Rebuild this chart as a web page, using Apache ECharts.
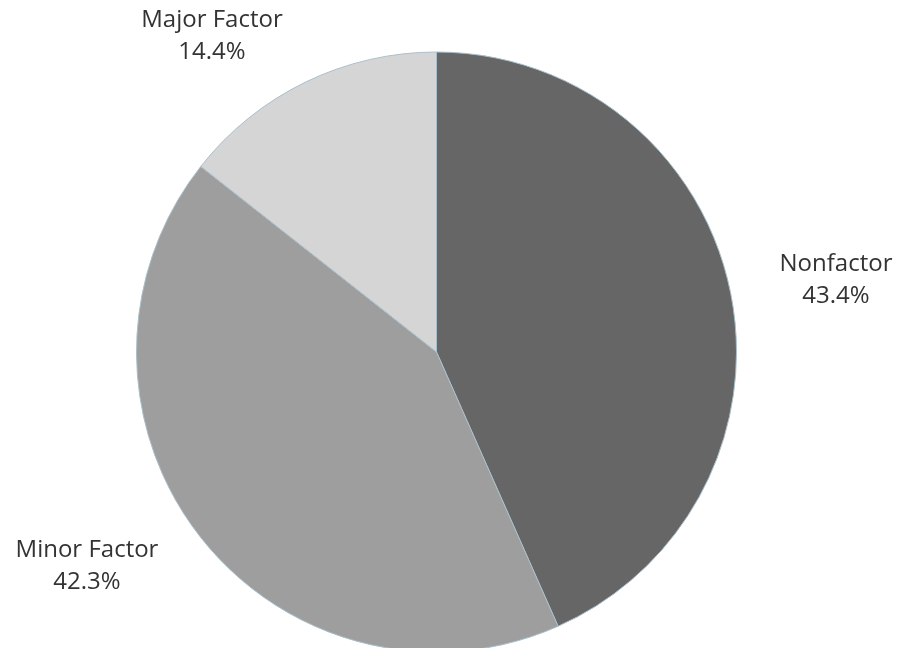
<!DOCTYPE html>
<html>
<head>
<meta charset="utf-8">
<script src="https://cdn.jsdelivr.net/npm/echarts@6/dist/echarts.min.js"></script>
<style>
  html, body { margin: 0; padding: 0; background: #ffffff; }
  #chart { width: 905px; height: 648px; }
</style>
</head>
<body>
<div id="chart"></div>
<script>
// Share of respondents by how much of a factor it was
const categories = ['Nonfactor', 'Minor Factor', 'Major Factor'];
const shares = [43.4, 42.3, 14.4];
const sliceColors = ['#666666', '#9e9e9e', '#d5d5d5'];
// Label anchor points (centre of each two-line label)
const labelSpots = [[836, 280], [87, 566], [212, 36]];

const chart = echarts.init(document.getElementById('chart'), null, { renderer: 'canvas' });

chart.setOption({
  animation: false,
  series: [{
    type: 'pie',
    center: [436.5, 352],
    radius: [0, 300],
    startAngle: 90,
    clockwise: true,
    data: categories.map((name, i) => ({
      name: name,
      value: shares[i],
      itemStyle: { color: sliceColors[i] }
    })),
    itemStyle: { borderColor: '#a9bfcb', borderWidth: 1 },
    label: {
      show: true,
      position: 'outside',
      formatter: p => p.name + '\n' + p.value.toFixed(1) + '%',
      fontFamily: '"Open Sans", "Noto Sans", sans-serif',
      fontSize: 24,
      lineHeight: 32,
      color: '#333333',
      align: 'center',
      overflow: 'none',
      width: 200
    },
    labelLine: { show: false },
    labelLayout: params => {
      const s = labelSpots[params.dataIndex];
      return { x: s[0], y: s[1], align: 'center', verticalAlign: 'middle' };
    },
    emphasis: { disabled: true }
  }]
});
</script>
</body>
</html>
